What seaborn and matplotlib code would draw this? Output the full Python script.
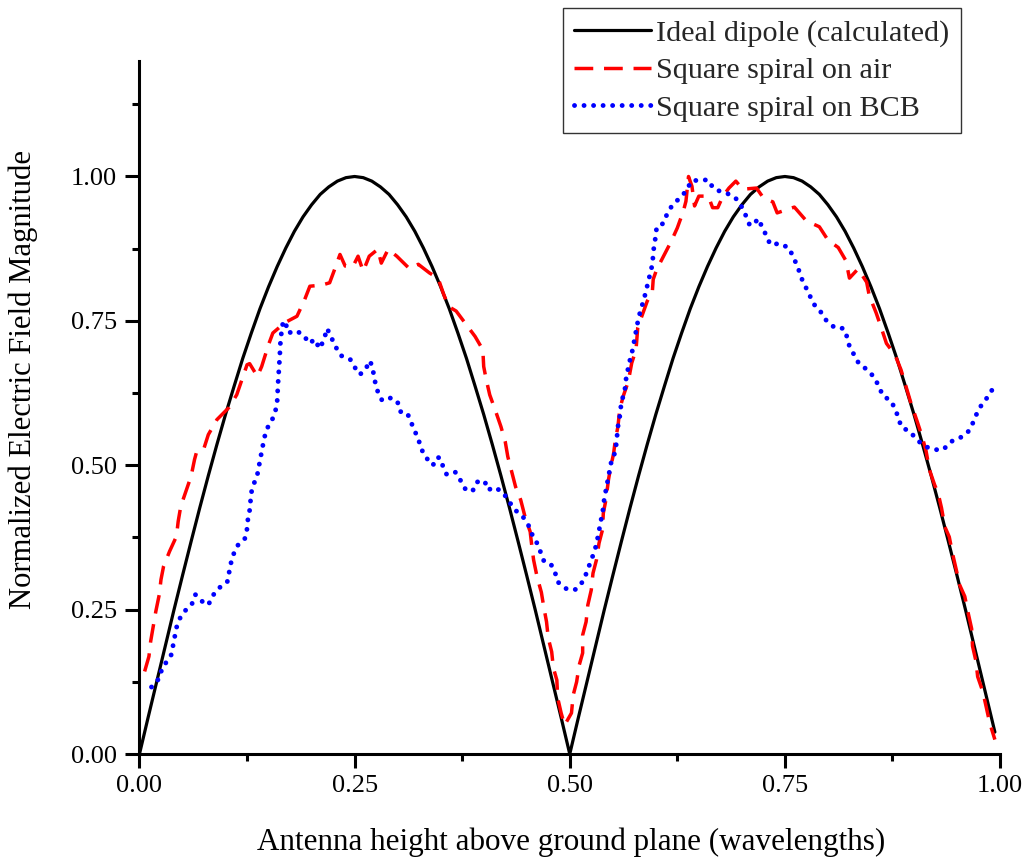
import matplotlib
matplotlib.use("Agg")
import matplotlib.pyplot as plt
from matplotlib.ticker import MultipleLocator, FormatStrFormatter
import seaborn as sns
import pandas as pd

# ---- data -------------------------------------------------------------
dipole_x = [0.00, 0.01, 0.02, 0.03, 0.04, 0.05, 0.06, 0.07, 0.08, 0.09,
            0.10, 0.11, 0.12, 0.13, 0.14, 0.15, 0.16, 0.17, 0.18, 0.19,
            0.20, 0.21, 0.22, 0.23, 0.24, 0.25, 0.26, 0.27, 0.28, 0.29,
            0.30, 0.31, 0.32, 0.33, 0.34, 0.35, 0.36, 0.37, 0.38, 0.39,
            0.40, 0.41, 0.42, 0.43, 0.44, 0.45, 0.46, 0.47, 0.48, 0.49,
            0.50, 0.51, 0.52, 0.53, 0.54, 0.55, 0.56, 0.57, 0.58, 0.59,
            0.60, 0.61, 0.62, 0.63, 0.64, 0.65, 0.66, 0.67, 0.68, 0.69,
            0.70, 0.71, 0.72, 0.73, 0.74, 0.75, 0.76, 0.77, 0.78, 0.79,
            0.80, 0.81, 0.82, 0.83, 0.84, 0.85, 0.86, 0.87, 0.88, 0.89,
            0.90, 0.91, 0.92, 0.93, 0.94, 0.95, 0.96, 0.97, 0.98, 0.99,
            0.994]
dipole_y = [0.000, 0.063, 0.125, 0.187, 0.249, 0.309, 0.368, 0.426, 0.482, 0.536,
            0.588, 0.637, 0.685, 0.729, 0.771, 0.809, 0.844, 0.876, 0.905, 0.930,
            0.951, 0.969, 0.982, 0.992, 0.998, 1.000, 0.998, 0.992, 0.982, 0.969,
            0.951, 0.930, 0.905, 0.876, 0.844, 0.809, 0.771, 0.729, 0.685, 0.637,
            0.588, 0.536, 0.482, 0.426, 0.368, 0.309, 0.249, 0.187, 0.125, 0.063,
            0.000, 0.063, 0.125, 0.187, 0.249, 0.309, 0.368, 0.426, 0.482, 0.536,
            0.588, 0.637, 0.685, 0.729, 0.771, 0.809, 0.844, 0.876, 0.905, 0.930,
            0.951, 0.969, 0.982, 0.992, 0.998, 1.000, 0.998, 0.992, 0.982, 0.969,
            0.951, 0.930, 0.905, 0.876, 0.844, 0.809, 0.771, 0.729, 0.685, 0.637,
            0.588, 0.536, 0.482, 0.426, 0.368, 0.309, 0.249, 0.187, 0.125, 0.063,
            0.038]

air_x = [0.006, 0.011, 0.013, 0.016, 0.019, 0.023, 0.025, 0.028, 0.035, 0.043,
         0.045, 0.048, 0.054, 0.060, 0.064, 0.066, 0.074, 0.080, 0.090, 0.104,
         0.113, 0.119, 0.125, 0.128, 0.137, 0.142, 0.150, 0.155, 0.169, 0.183,
         0.192, 0.198, 0.212, 0.221, 0.226, 0.233, 0.239, 0.248, 0.254, 0.260,
         0.267, 0.277, 0.281, 0.289, 0.299, 0.314, 0.324, 0.337, 0.347, 0.353,
         0.359, 0.368, 0.378, 0.390, 0.399, 0.400, 0.403, 0.407, 0.414, 0.420,
         0.425, 0.428, 0.432, 0.437, 0.443, 0.448, 0.454, 0.456, 0.458, 0.462,
         0.467, 0.470, 0.473, 0.475, 0.479, 0.481, 0.485, 0.486, 0.490, 0.494,
         0.502, 0.504, 0.508, 0.511, 0.515, 0.515, 0.519, 0.521, 0.525, 0.527,
         0.531, 0.534, 0.538, 0.539, 0.542, 0.545, 0.547, 0.551, 0.553, 0.556,
         0.558, 0.562, 0.568, 0.572, 0.577, 0.579, 0.583, 0.590, 0.596, 0.597,
         0.601, 0.609, 0.618, 0.625, 0.632, 0.635, 0.638, 0.642, 0.645, 0.650,
         0.661, 0.666, 0.672, 0.678, 0.685, 0.693, 0.701, 0.717, 0.725, 0.736,
         0.741, 0.761, 0.775, 0.790, 0.800, 0.812, 0.821, 0.825, 0.835, 0.845,
         0.848, 0.856, 0.862, 0.868, 0.878, 0.885, 0.891, 0.897, 0.903, 0.909,
         0.914, 0.918, 0.924, 0.928, 0.932, 0.936, 0.941, 0.945, 0.949, 0.953,
         0.959, 0.963, 0.967, 0.968, 0.972, 0.974, 0.980, 0.984, 0.988, 0.994]
air_y = [0.143, 0.169, 0.195, 0.221, 0.247, 0.276, 0.302, 0.325, 0.351, 0.377,
         0.403, 0.429, 0.455, 0.481, 0.510, 0.521, 0.525, 0.553, 0.579, 0.600,
         0.622, 0.648, 0.674, 0.676, 0.654, 0.671, 0.709, 0.729, 0.747, 0.758,
         0.787, 0.810, 0.812, 0.816, 0.836, 0.865, 0.845, 0.844, 0.862, 0.836,
         0.862, 0.874, 0.850, 0.874, 0.862, 0.840, 0.848, 0.833, 0.824, 0.798,
         0.775, 0.767, 0.747, 0.723, 0.700, 0.671, 0.648, 0.622, 0.593, 0.567,
         0.541, 0.515, 0.492, 0.463, 0.440, 0.411, 0.385, 0.359, 0.336, 0.307,
         0.280, 0.253, 0.229, 0.201, 0.177, 0.149, 0.128, 0.097, 0.071, 0.050,
         0.071, 0.102, 0.125, 0.154, 0.175, 0.206, 0.229, 0.258, 0.284, 0.313,
         0.336, 0.365, 0.388, 0.417, 0.440, 0.475, 0.492, 0.521, 0.544, 0.567,
         0.596, 0.619, 0.645, 0.677, 0.700, 0.738, 0.755, 0.784, 0.801, 0.822,
         0.839, 0.862, 0.888, 0.911, 0.940, 0.957, 1.000, 0.983, 0.949, 0.966,
         0.966, 0.946, 0.946, 0.966, 0.980, 0.992, 0.978, 0.980, 0.963, 0.956,
         0.937, 0.947, 0.923, 0.913, 0.890, 0.877, 0.854, 0.824, 0.840, 0.817,
         0.794, 0.764, 0.738, 0.711, 0.691, 0.665, 0.635, 0.605, 0.579, 0.552,
         0.525, 0.492, 0.466, 0.452, 0.426, 0.393, 0.376, 0.346, 0.320, 0.293,
         0.273, 0.244, 0.217, 0.187, 0.161, 0.134, 0.108, 0.081, 0.054, 0.025]

bcb_x = [0.014, 0.023, 0.026, 0.032, 0.037, 0.039, 0.041, 0.043, 0.047, 0.053,
         0.061, 0.065, 0.071, 0.080, 0.085, 0.092, 0.102, 0.104, 0.106, 0.109,
         0.114, 0.123, 0.125, 0.126, 0.128, 0.129, 0.130, 0.133, 0.137, 0.139,
         0.141, 0.143, 0.145, 0.148, 0.154, 0.158, 0.160, 0.161, 0.163, 0.164,
         0.167, 0.170, 0.173, 0.182, 0.191, 0.197, 0.204, 0.209, 0.212, 0.216,
         0.218, 0.223, 0.228, 0.234, 0.245, 0.250, 0.256, 0.263, 0.267, 0.270,
         0.272, 0.274, 0.277, 0.282, 0.293, 0.300, 0.303, 0.311, 0.315, 0.319,
         0.324, 0.327, 0.332, 0.341, 0.346, 0.350, 0.353, 0.357, 0.367, 0.373,
         0.379, 0.387, 0.392, 0.401, 0.405, 0.412, 0.422, 0.429, 0.437, 0.446,
         0.452, 0.456, 0.462, 0.466, 0.470, 0.478, 0.483, 0.486, 0.497, 0.507,
         0.516, 0.520, 0.524, 0.528, 0.531, 0.533, 0.535, 0.537, 0.539, 0.540,
         0.542, 0.544, 0.546, 0.548, 0.552, 0.554, 0.555, 0.556, 0.558, 0.559,
         0.561, 0.564, 0.565, 0.567, 0.569, 0.572, 0.574, 0.576, 0.578, 0.580,
         0.583, 0.586, 0.589, 0.591, 0.594, 0.596, 0.597, 0.598, 0.600, 0.601,
         0.609, 0.613, 0.619, 0.628, 0.636, 0.641, 0.651, 0.661, 0.667, 0.677,
         0.686, 0.693, 0.700, 0.705, 0.709, 0.713, 0.719, 0.724, 0.729, 0.733,
         0.744, 0.755, 0.760, 0.765, 0.768, 0.773, 0.778, 0.783, 0.791, 0.798,
         0.808, 0.818, 0.822, 0.825, 0.836, 0.846, 0.854, 0.859, 0.864, 0.873,
         0.879, 0.882, 0.886, 0.895, 0.904, 0.914, 0.924, 0.934, 0.943, 0.953,
         0.962, 0.967, 0.971, 0.976, 0.984, 0.991]
bcb_y = [0.116, 0.131, 0.147, 0.161, 0.172, 0.188, 0.203, 0.219, 0.235, 0.248,
         0.260, 0.276, 0.266, 0.258, 0.274, 0.287, 0.298, 0.313, 0.329, 0.345,
         0.361, 0.374, 0.390, 0.406, 0.422, 0.437, 0.453, 0.468, 0.484, 0.500,
         0.515, 0.531, 0.547, 0.563, 0.578, 0.594, 0.610, 0.641, 0.688, 0.719,
         0.750, 0.745, 0.729, 0.733, 0.725, 0.711, 0.718, 0.702, 0.710, 0.726,
         0.737, 0.721, 0.705, 0.690, 0.683, 0.670, 0.657, 0.666, 0.681, 0.674,
         0.659, 0.643, 0.627, 0.612, 0.617, 0.609, 0.593, 0.591, 0.577, 0.562,
         0.546, 0.530, 0.515, 0.500, 0.514, 0.512, 0.496, 0.484, 0.488, 0.474,
         0.458, 0.455, 0.471, 0.473, 0.457, 0.462, 0.454, 0.438, 0.422, 0.410,
         0.396, 0.381, 0.365, 0.350, 0.334, 0.329, 0.314, 0.298, 0.285, 0.285,
         0.300, 0.316, 0.332, 0.348, 0.363, 0.379, 0.395, 0.410, 0.426, 0.441,
         0.457, 0.473, 0.488, 0.504, 0.520, 0.536, 0.551, 0.567, 0.583, 0.598,
         0.614, 0.630, 0.646, 0.662, 0.677, 0.693, 0.708, 0.724, 0.740, 0.756,
         0.771, 0.787, 0.803, 0.818, 0.834, 0.849, 0.865, 0.881, 0.897, 0.913,
         0.919, 0.935, 0.950, 0.963, 0.976, 0.992, 0.994, 0.994, 0.979, 0.973,
         0.969, 0.962, 0.947, 0.931, 0.916, 0.916, 0.927, 0.911, 0.896, 0.882,
         0.884, 0.876, 0.859, 0.844, 0.828, 0.812, 0.797, 0.780, 0.767, 0.751,
         0.738, 0.737, 0.723, 0.706, 0.676, 0.665, 0.652, 0.637, 0.620, 0.612,
         0.595, 0.580, 0.565, 0.559, 0.543, 0.532, 0.527, 0.527, 0.541, 0.547,
         0.556, 0.568, 0.583, 0.599, 0.615, 0.631]

series_labels = ["Ideal dipole (calculated)", "Square spiral on air",
                 "Square spiral on BCB"]
x_ticks = [0.00, 0.25, 0.50, 0.75, 1.00]
y_ticks = [0.00, 0.25, 0.50, 0.75, 1.00]

# ---- style ------------------------------------------------------------
sns.set_theme(style="ticks")
plt.rcParams["font.family"] = ["Liberation Serif", "DejaVu Serif"]

fig = plt.figure(figsize=(10.24, 8.59), dpi=100)
ax = fig.add_axes([0.1362, 0.1222, 0.8404, 0.8068])

df_dip = pd.DataFrame({"x": dipole_x, "y": dipole_y})
df_air = pd.DataFrame({"x": air_x, "y": air_y})
df_bcb = pd.DataFrame({"x": bcb_x, "y": bcb_y})

sns.lineplot(data=df_dip, x="x", y="y", ax=ax, sort=False, estimator=None,
             color="black", linewidth=2.3, label=series_labels[0])
sns.lineplot(data=df_air, x="x", y="y", ax=ax, sort=False, estimator=None,
             color="#ff0000", linewidth=2.5, linestyle=(0, (5.4, 3.1)),
             dash_capstyle="butt", label=series_labels[1])
sns.lineplot(data=df_bcb, x="x", y="y", ax=ax, sort=False, estimator=None,
             color="#0000ff", linewidth=3.5, linestyle=(0, (0.01, 1.95)),
             dash_capstyle="round", label=series_labels[2])

ax.set_xlim(0, 1.0)
ax.set_ylim(0, 1.2)
ax.set_xticks(x_ticks)
ax.set_yticks(y_ticks)
ax.xaxis.set_minor_locator(MultipleLocator(0.125))
ax.yaxis.set_minor_locator(MultipleLocator(0.125))
ax.xaxis.set_major_formatter(FormatStrFormatter("%.2f"))
ax.yaxis.set_major_formatter(FormatStrFormatter("%.2f"))

for side in ("top", "right"):
    ax.spines[side].set_visible(False)
for side in ("left", "bottom"):
    ax.spines[side].set_linewidth(2.2)
    ax.spines[side].set_color("black")

ax.tick_params(which="major", direction="out", length=10, width=2.2,
               labelsize=19, color="black", labelcolor="black")
ax.tick_params(axis="x", which="major", pad=5)
ax.tick_params(axis="y", which="major", pad=6)
ax.tick_params(which="minor", direction="out", length=5, width=2.2,
               color="black")

ax.set_xlabel("Antenna height above ground plane (wavelengths)",
              fontsize=22.4, color="black")
ax.set_ylabel("Normalized Electric Field Magnitude", fontsize=22.1,
              color="black")
ax.xaxis.set_label_coords(0.5015, -0.128)
ax.xaxis.label.set_va("center")
ax.yaxis.set_label_coords(-0.1354, 0.540)
ax.yaxis.label.set_va("center")

leg = ax.legend(loc="upper left", bbox_to_anchor=(0.5498, 0.9907),
                bbox_transform=fig.transFigure, borderaxespad=0,
                fontsize=21.7, frameon=True, fancybox=False,
                handlelength=2.55, handletextpad=0.17, labelspacing=0.34,
                borderpad=0.38)
frame = leg.get_frame()
frame.set_edgecolor("#333333")
frame.set_linewidth(1.0)
frame.set_alpha(1.0)

fig.savefig("out.png", dpi=100)
